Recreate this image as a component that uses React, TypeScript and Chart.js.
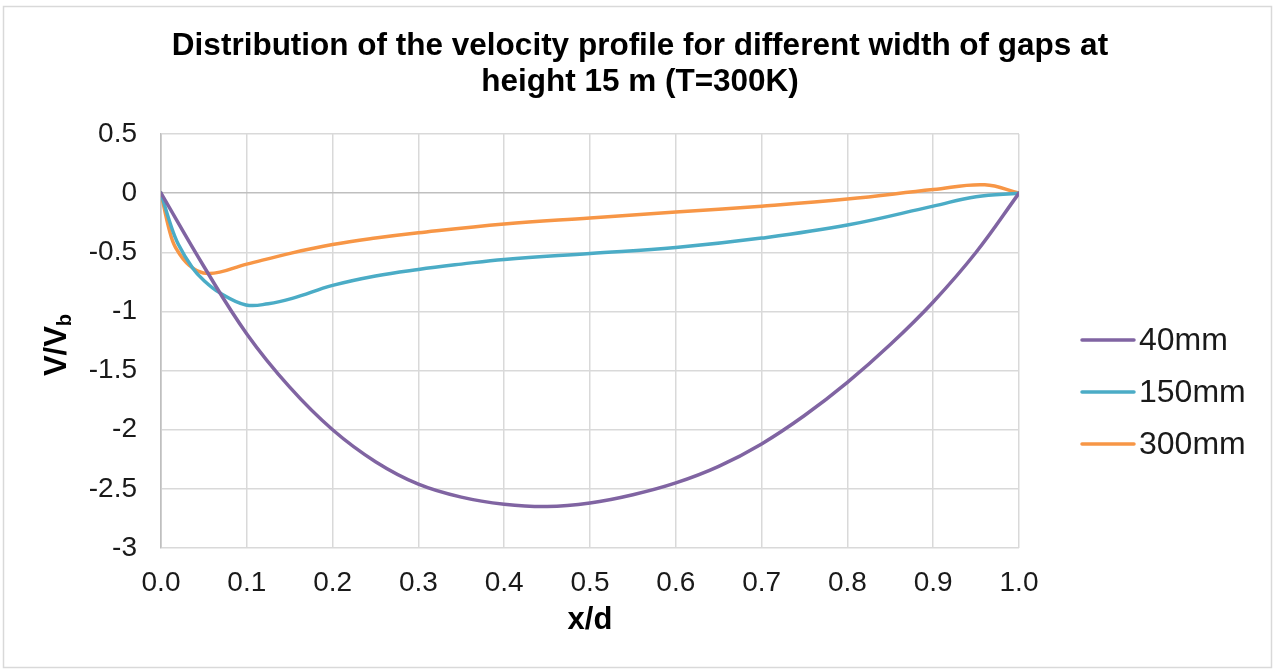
import React, { useEffect, useRef } from "react";
import { Chart, registerables } from "chart.js";

Chart.register(...registerables);

const seriesLabels = ["40mm", "150mm", "300mm"];
const seriesColors = ["#8064a2", "#4bacc6", "#f79646"];

const x40 = [0, 0.05, 0.1, 0.15, 0.2, 0.25, 0.3, 0.35, 0.4, 0.45, 0.5, 0.55, 0.6, 0.65, 0.7, 0.75, 0.8, 0.85, 0.9, 0.95, 1.0];
const y40 = [0, -0.62, -1.19, -1.64, -2.0, -2.27, -2.46, -2.57, -2.63, -2.65, -2.62, -2.55, -2.45, -2.31, -2.12, -1.88, -1.6, -1.28, -0.92, -0.5, 0];

const x150 = [0, 0.01, 0.02, 0.037, 0.05, 0.068, 0.099, 0.125, 0.153, 0.2, 0.25, 0.3, 0.35, 0.4, 0.5, 0.6, 0.7, 0.8, 0.9, 0.95, 1.0];
const y150 = [0, -0.24, -0.43, -0.634, -0.738, -0.84, -0.945, -0.935, -0.89, -0.78, -0.7, -0.645, -0.6, -0.56, -0.51, -0.46, -0.38, -0.27, -0.11, -0.03, 0];

const x300 = [0, 0.01, 0.017, 0.033, 0.056, 0.1, 0.153, 0.2, 0.25, 0.3, 0.4, 0.5, 0.6, 0.7, 0.8, 0.9, 0.96, 1.0];
const y300 = [0, -0.32, -0.46, -0.61, -0.68, -0.6, -0.505, -0.435, -0.38, -0.335, -0.26, -0.21, -0.16, -0.11, -0.05, 0.03, 0.07, 0];

const titleLines = ["Distribution of the velocity profile for different width of gaps at", "height 15 m (T=300K)"];
const xTitle = "x/d";
const yTitleMain = "V/V";
const yTitleSub = "b";

const W = 1276;
const H = 671;
const FONT = "'Liberation Sans', Arial, sans-serif";

function pts(xs: number[], ys: number[]) {
  return xs.map((x, i) => ({ x, y: ys[i] }));
}

const decorPlugin = {
  id: "decor",
  beforeDraw(chart: any) {
    const ctx = chart.ctx;
    ctx.save();
    ctx.fillStyle = "#ffffff";
    ctx.fillRect(0, 0, W, H);
    ctx.strokeStyle = "#d9d9d9";
    ctx.lineWidth = 1.5;
    ctx.strokeRect(3.5, 6.5, 1268, 661);
    ctx.restore();
  },
  afterDraw(chart: any) {
    const ctx = chart.ctx;
    ctx.save();
    ctx.fillStyle = "#000";
    ctx.font = `bold 31.5px ${FONT}`;
    ctx.textAlign = "center";
    ctx.textBaseline = "middle";
    ctx.fillText(titleLines[0], 640, 46);
    ctx.fillText(titleLines[1], 640, 82);
    ctx.font = `bold 31px ${FONT}`;
    ctx.fillText(xTitle, 590, 620);
    ctx.translate(57, 345);
    ctx.rotate(-Math.PI / 2);
    ctx.font = `bold 31px ${FONT}`;
    const w1 = ctx.measureText(yTitleMain).width;
    ctx.font = `bold 20px ${FONT}`;
    const w2 = ctx.measureText(yTitleSub).width;
    const start = -(w1 + w2) / 2;
    ctx.textAlign = "left";
    ctx.font = `bold 31px ${FONT}`;
    ctx.fillText(yTitleMain, start, 0);
    ctx.font = `bold 20px ${FONT}`;
    ctx.fillText(yTitleSub, start + w1, 8);
    ctx.restore();

    ctx.save();
    const ys = [340, 392, 444];
    chart.data.datasets.forEach((ds: any, i: number) => {
      ctx.strokeStyle = ds.borderColor;
      ctx.lineWidth = 3.5;
      ctx.lineCap = "round";
      ctx.beginPath();
      ctx.moveTo(1082, ys[i]);
      ctx.lineTo(1134, ys[i]);
      ctx.stroke();
      ctx.fillStyle = "#1a1a1a";
      ctx.font = `32px ${FONT}`;
      ctx.textAlign = "left";
      ctx.textBaseline = "middle";
      ctx.fillText(ds.label, 1139, ys[i] + 1);
    });
    ctx.restore();
  },
};

export default function App() {
  const ref = useRef<HTMLCanvasElement | null>(null);
  useEffect(() => {
    if (!ref.current) return;
    const chart = new Chart(ref.current, {
      type: "scatter",
      data: {
        datasets: [
          { label: seriesLabels[0], data: pts(x40, y40), borderColor: seriesColors[0], backgroundColor: seriesColors[0] },
          { label: seriesLabels[1], data: pts(x150, y150), borderColor: seriesColors[1], backgroundColor: seriesColors[1] },
          { label: seriesLabels[2], data: pts(x300, y300), borderColor: seriesColors[2], backgroundColor: seriesColors[2] },
        ].map((d) => ({
          ...d,
          showLine: true,
          borderWidth: 3.5,
          borderCapStyle: "round" as const,
          borderJoinStyle: "round" as const,
          pointRadius: 0,
          pointHoverRadius: 0,
          tension: 0.4,
          fill: false,
        })),
      },
      plugins: [decorPlugin],
      options: {
        animation: false,
        responsive: false,
        maintainAspectRatio: false,
        events: [],
        layout: { padding: { top: 134, right: 257, left: 0, bottom: 0 } },
        plugins: {
          legend: { display: false },
          title: { display: false },
          tooltip: { enabled: false },
        },
        scales: {
          x: {
            type: "linear",
            min: 0,
            max: 1,
            afterFit(scale: any) {
              scale.height = H - 548;
            },
            ticks: {
              stepSize: 0.1,
              padding: 18,
              color: "#1a1a1a",
              font: { family: FONT, size: 28 },
              callback: (v: any) => Number(v).toFixed(1),
            },
            grid: {
              drawTicks: false,
              lineWidth: 1.5,
              color: (c: any) => (c.tick && c.tick.value === 0 ? "#bfbfbf" : "#d9d9d9"),
            },
            border: { display: false },
          },
          y: {
            type: "linear",
            min: -3,
            max: 0.5,
            afterFit(scale: any) {
              scale.width = 161;
            },
            ticks: {
              stepSize: 0.5,
              padding: 24,
              color: "#1a1a1a",
              font: { family: FONT, size: 28 },
              callback: (v: any) => String(Math.round(Number(v) * 10) / 10),
            },
            grid: {
              drawTicks: false,
              lineWidth: 1.5,
              color: (c: any) => (c.tick && c.tick.value === 0 ? "#bfbfbf" : "#d9d9d9"),
            },
            border: { display: true, color: "#bfbfbf", width: 1.5 },
          },
        },
      },
    } as any);
    return () => chart.destroy();
  }, []);
  return (
    <div style={{ position: "fixed", left: 0, top: 0, width: W, height: H, background: "#fff" }}>
      <canvas ref={ref} width={W} height={H} style={{ width: W, height: H, display: "block" }} />
    </div>
  );
}
